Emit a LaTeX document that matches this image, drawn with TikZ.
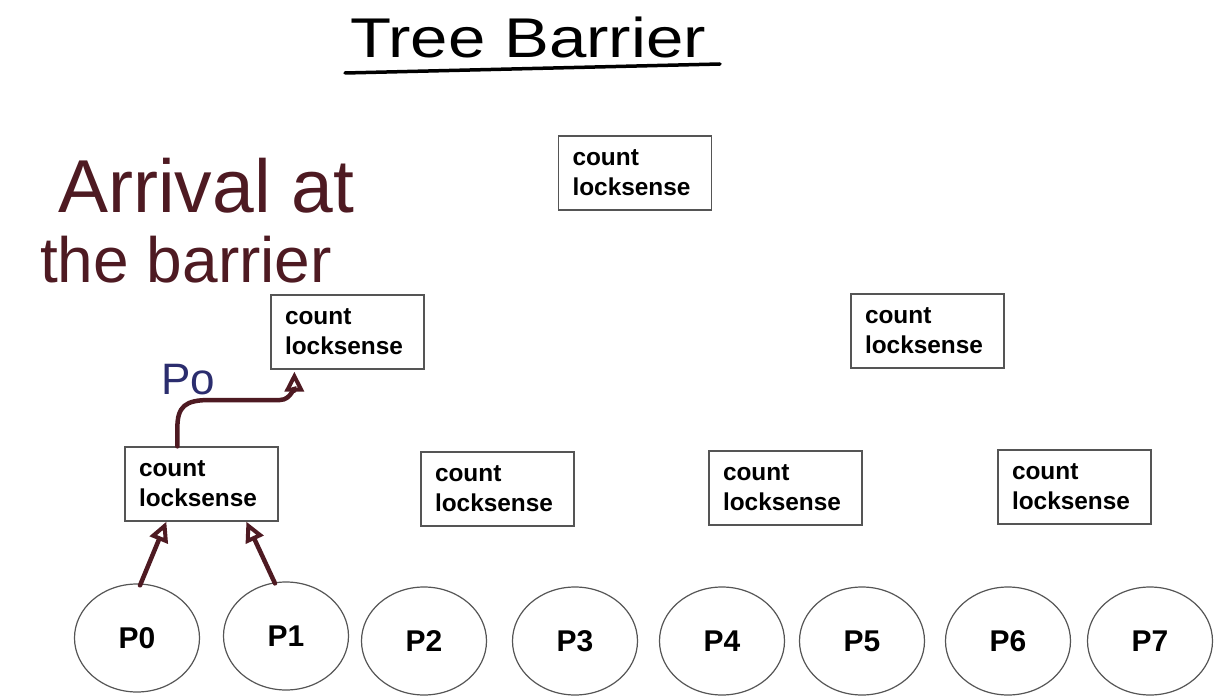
\documentclass[tikz,border=0pt]{standalone}
\usepackage{fontspec}
\setmainfont{Liberation Sans}
\usetikzlibrary{shapes.geometric,arrows.meta,calc}
\definecolor{maroon}{HTML}{4E1A22}
\definecolor{penblue}{HTML}{2B2D6E}
\definecolor{boxline}{HTML}{555555}
\tikzset{
  vbox/.style={draw=boxline, line width=1.3, minimum width=153, minimum height=74,
    text width=125, inner xsep=14, inner ysep=0, align=left,
    font=\fontsize{24.4}{30}\selectfont\bfseries},
  proc/.style={draw=boxline, line width=1.2, ellipse, minimum width=125, minimum height=108,
    font=\fontsize{30}{30}\selectfont\bfseries},
  pen/.style={draw=maroon, line width=4.5, line cap=round, -{Triangle[open, length=20, width=19, line width=4]}},
  hand/.style={text=maroon, anchor=base west, inner sep=0},
}
\begin{document}
\begin{tikzpicture}[x=1pt,y=-1pt]
\useasboundingbox (0,0) rectangle (1224,698);
% title
\node[font=\fontsize{56}{56}\selectfont, text=black, inner sep=0, anchor=base, xscale=1.2] (title) at (528,58) {Tree Barrier};
\draw[line width=3.5, line cap=round] (345,73) -- (720,64);
% handwritten note
\node[hand, font=\fontsize{75}{75}\selectfont] (arr1) at (58,212) {Arrival at};
\node[hand, font=\fontsize{64}{64}\selectfont] (arr2) at (40,282) {the barrier};
% tree nodes
\node[vbox] (root) at (635,173) {count\\locksense};
\node[vbox] (a0) at (347.5,332) {count\\locksense};
\node[vbox] (a1) at (927.5,331) {count\\locksense};
\node[vbox] (b0) at (201.5,484) {count\\locksense};
\node[vbox] (b1) at (497.5,489) {count\\locksense};
\node[vbox] (b2) at (785.5,488) {count\\locksense};
\node[vbox] (b3) at (1074.5,487) {count\\locksense};
% processors
\node[proc] (p0) at (137,638) {P0};
\node[proc] (p1) at (286,636) {P1};
\node[proc] (p2) at (424,641) {P2};
\node[proc] (p3) at (575,641) {P3};
\node[proc] (p4) at (722,641) {P4};
\node[proc] (p5) at (862,641) {P5};
\node[proc] (p6) at (1008,641) {P6};
\node[proc] (p7) at (1150,641) {P7};
% arrows
\draw[pen] ($(p0.north)+(3,2)$) -- ($(b0.south west)+(42,0)$);
\draw[pen] ($(p1.north)+(-11,2)$) -- ($(b0.south west)+(122,0)$);
\draw[pen] ($(b0.north west)+(53,0)$) -- ++(0,-18) .. controls ++(0,-22) and (185,400) .. (210,400)
  -- (280,400) .. controls (292,400) and ($(a0.south west)+(24,14)$) .. ($(a0.south west)+(24,2)$);
\node[text=penblue, font=\fontsize{44}{44}\selectfont, inner sep=0, anchor=base] (p0lab) at (188,394) {Po};
\end{tikzpicture}
\end{document}
